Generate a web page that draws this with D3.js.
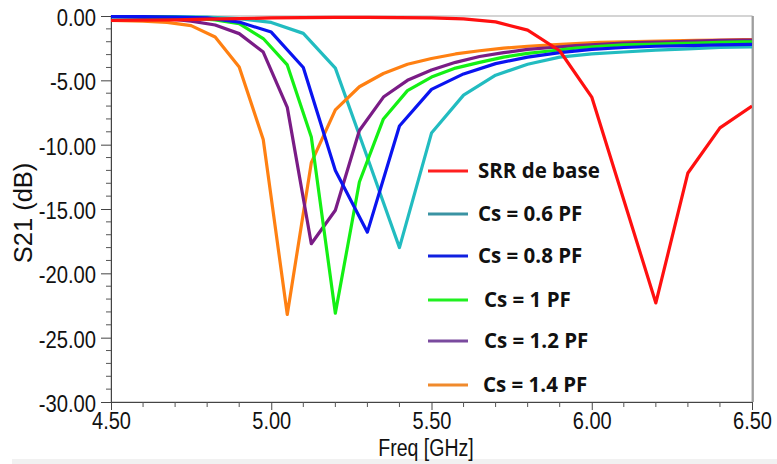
<!DOCTYPE html>
<html><head><meta charset="utf-8">
<script src="https://cdn.jsdelivr.net/npm/d3@7"></script>
<style>
html,body{margin:0;padding:0;background:#fff;}
svg{display:block;}
</style></head>
<body>
<svg id="chart" width="777" height="464"></svg>
<script>
// ---- Data ----
const freqA = [4.5,4.6,4.7,4.8,4.9,5.0,5.1,5.2,5.3,5.4,5.5,5.6,5.7,5.8,5.9,6.0,6.1,6.2,6.3,6.4,6.5];
const freqB = [4.5,4.6,4.675,4.75,4.825,4.9,4.975,5.05,5.125,5.2,5.275,5.35,5.425,5.5,5.575,5.65,5.725,5.8,5.875,5.95,6.025,6.1,6.175,6.25,6.325,6.4,6.475,6.5];

const srrBase = [-0.35,-0.33,-0.3,-0.25,-0.2,-0.15,-0.12,-0.1,-0.1,-0.12,-0.15,-0.22,-0.46,-1.1,-2.7,-6.3,-14.3,-22.3,-12.2,-8.7,-7.0];
const cs06 = [-0.05,-0.05,-0.05,-0.08,-0.2,-0.5,-1.35,-4.05,-11.0,-18.0,-9.1,-6.15,-4.6,-3.75,-3.2,-2.95,-2.8,-2.65,-2.55,-2.45,-2.4];
const cs08 = [-0.05,-0.05,-0.08,-0.15,-0.47,-1.25,-4.0,-12.0,-16.8,-8.55,-5.7,-4.5,-3.7,-3.2,-2.85,-2.6,-2.45,-2.35,-2.3,-2.25,-2.2];
const cs10 = [-0.05,-0.05,-0.08,-0.15,-0.3,-0.6,-1.75,-3.8,-9.4,-23.1,-12.9,-8.0,-5.8,-4.75,-4.05,-3.6,-3.2,-2.9,-2.7,-2.5,-2.35,-2.25,-2.2,-2.15,-2.1,-2.05,-2.0,-2.0];
const cs12 = [-0.05,-0.1,-0.2,-0.4,-0.7,-1.37,-2.8,-7.1,-17.7,-15.1,-8.9,-6.3,-5.0,-4.2,-3.6,-3.15,-2.85,-2.6,-2.45,-2.3,-2.2,-2.1,-2.05,-2.0,-1.95,-1.9,-1.88,-1.87];
const cs14 = [-0.35,-0.4,-0.5,-0.75,-1.63,-3.96,-9.6,-23.2,-11.4,-7.3,-5.5,-4.47,-3.75,-3.3,-2.95,-2.7,-2.5,-2.35,-2.25,-2.15,-2.05,-2.0,-1.97,-1.93,-1.9,-1.87,-1.84,-1.83];

const xTicks = [4.5,5.0,5.5,6.0,6.5];
const yTicks = [0,-5,-10,-15,-20,-25,-30];
const legendLabels = ["SRR de base","Cs = 0.6 PF","Cs = 0.8 PF","Cs = 1 PF","Cs = 1.2 PF","Cs = 1.4 PF"];

// ---- Series table ----
const series = [
  {name:legendLabels[1], x:freqA, y:cs06, color:"#22bcc0", legendColor:"#3a93a3"},
  {name:legendLabels[5], x:freqB, y:cs14, color:"#ff8012", legendColor:"#f08a2c"},
  {name:legendLabels[4], x:freqB, y:cs12, color:"#7a1c86", legendColor:"#7a4a9e"},
  {name:legendLabels[3], x:freqB, y:cs10, color:"#14f014", legendColor:"#20f020"},
  {name:legendLabels[2], x:freqA, y:cs08, color:"#0a14f0", legendColor:"#1020e0"},
  {name:legendLabels[0], x:freqA, y:srrBase, color:"#ff1010", legendColor:"#ff2020"}
];

const svg = d3.select("#chart");
const L = 111, R = 752, T = 16, B = 402;
const x = d3.scaleLinear().domain([4.5,6.5]).range([L,R]);
const y = d3.scaleLinear().domain([-30,0]).range([B,T]);
const fmt = d => d.toFixed(2);

function squeeze(sel, factor){
  sel.each(function(){
    const w = this.getComputedTextLength();
    d3.select(this).attr("textLength", w*factor).attr("lengthAdjust","spacingAndGlyphs");
  });
}

// bottom light strip
svg.append("rect").attr("x",12).attr("y",459).attr("width",765).attr("height",5).attr("fill","#f1f1f1");

// frame
svg.append("rect").attr("x",L).attr("y",T).attr("width",R-L).attr("height",B-T)
  .attr("fill","none").attr("stroke","#a9a9a9").attr("stroke-width",1);
svg.append("line").attr("x1",R+1).attr("x2",R+1).attr("y1",T).attr("y2",B)
  .attr("stroke","#8c8c8c").attr("stroke-width",1.5);

const fontAxis = "'Liberation Sans', Arial, sans-serif";

// y axis
const yMinor = d3.range(-30,1,1);
const yAxis = d3.axisLeft(y).tickValues(yTicks).tickFormat(fmt).tickSizeInner(10).tickSizeOuter(0).tickPadding(5);
const gy = svg.append("g").attr("transform",`translate(${L},0)`).call(yAxis);
gy.append("g").selectAll("line").data(yMinor.filter(v=>!yTicks.includes(v))).join("line")
  .attr("x1",-5).attr("x2",0).attr("y1",d=>y(d)).attr("y2",d=>y(d)).attr("stroke","#555");
gy.select(".domain").attr("stroke","#444");
gy.selectAll(".tick line").attr("stroke","#444");
gy.selectAll(".tick text").attr("font-family",fontAxis).attr("font-size",23.5).attr("fill","#111").attr("dy","0.4em")
  .call(squeeze,0.86);

// x axis
const xMinor = [4.6,4.7,4.8,4.9,5.1,5.2,5.3,5.4,5.6,5.7,5.8,5.9,6.1,6.2,6.3,6.4];
const xAxis = d3.axisBottom(x).tickValues(xTicks).tickFormat(fmt).tickSizeInner(8).tickSizeOuter(0).tickPadding(3);
const gx = svg.append("g").attr("transform",`translate(0,${B})`).call(xAxis);
gx.append("g").selectAll("line").data(xMinor).join("line")
  .attr("x1",d=>x(d)).attr("x2",d=>x(d)).attr("y1",0).attr("y2",5).attr("stroke","#555");
gx.select(".domain").attr("stroke","#444");
gx.selectAll(".tick line").attr("stroke","#444");
gx.selectAll(".tick text").attr("font-family",fontAxis).attr("font-size",23).attr("fill","#111")
  .call(squeeze,0.87);

// axis titles
svg.append("text").attr("x",426).attr("y",456).attr("text-anchor","middle")
  .attr("font-family",fontAxis).attr("font-size",23.5).attr("fill","#111").text("Freq [GHz]")
  .call(squeeze,0.83);
svg.append("text").attr("transform",`translate(32,${y(-15)+4}) rotate(-90)`).attr("text-anchor","middle")
  .attr("font-family",fontAxis).attr("font-size",25.5).attr("fill","#111").text("S21 (dB)");

// curves
const line = d3.line().x(d=>x(d[0])).y(d=>y(d[1]));
svg.append("clipPath").attr("id","clip").append("rect")
  .attr("x",L).attr("y",T-2).attr("width",R-L).attr("height",B-T+2);
svg.append("g").attr("clip-path","url(#clip)").selectAll("path").data(series).join("path")
  .attr("d",s=>line(s.x.map((f,i)=>[f,s.y[i]])))
  .attr("fill","none").attr("stroke",s=>s.color).attr("stroke-width",3.2)
  .attr("stroke-linejoin","round");

// legend
const legendOrder = [5,0,4,3,2,1].map(i=>series[i]);
const legY = [171,214,256,300,341,385];
const legTextX = [478,478,478,484,484,483];
const lg = svg.append("g");
legendOrder.forEach((s,i)=>{
  lg.append("line").attr("x1",428).attr("x2",468).attr("y1",legY[i]).attr("y2",legY[i])
    .attr("stroke",s.legendColor).attr("stroke-width",3);
  lg.append("text").attr("x",legTextX[i]).attr("y",legY[i]).attr("dy","0.36em")
    .attr("font-family","'Open Sans', 'Liberation Sans', sans-serif").attr("font-weight","bold")
    .attr("font-size",20.5).attr("fill","#111").text(s.name);
});
</script>
</body></html>
